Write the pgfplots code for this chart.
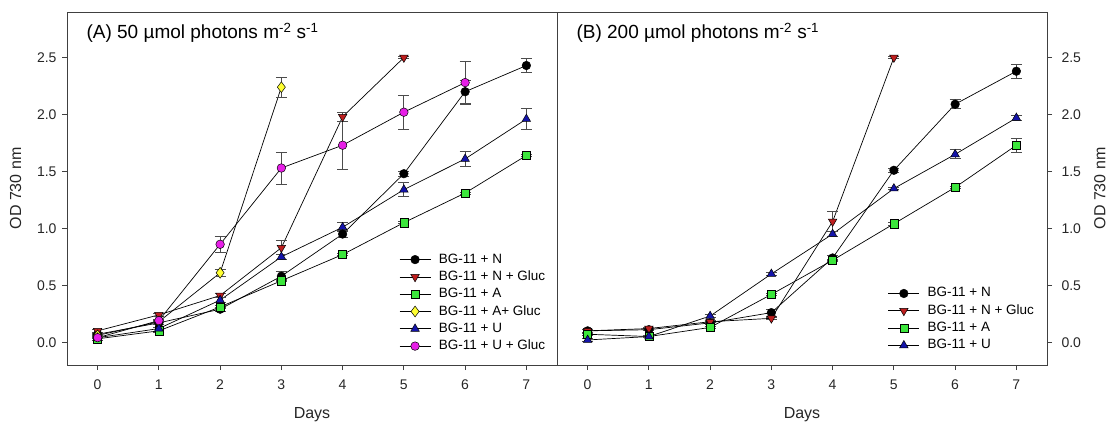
\documentclass[border=0pt]{standalone}
\usepackage{fontspec}
\setmainfont{Liberation Sans}
\usepackage{pgfplots}
\usepackage{pgfplotstable}
\pgfplotsset{compat=1.18}

\definecolor{redc}{RGB}{190,30,30}
\definecolor{greenc}{RGB}{60,230,60}
\definecolor{yellowc}{RGB}{255,255,50}
\definecolor{bluec}{RGB}{20,20,170}
\definecolor{magc}{RGB}{230,30,230}

% ---------- Panel A ----------
\pgfplotstableread{
x y e
0 0.07 0.01
1 0.17 0.01
2 0.29 0.02
3 0.58 0.04
4 0.95 0.03
5 1.48 0.02
6 2.20 0.10
7 2.43 0.06
}\AN
\pgfplotstableread{
x y e
0 0.10 0.01
1 0.24 0.01
2 0.41 0.02
3 0.83 0.06
4 1.98 0.04
5 2.50 0.01
}\ANG
\pgfplotstableread{
x y e
0 0.03 0.01
1 0.10 0.01
2 0.31 0.01
3 0.54 0.01
4 0.77 0.01
5 1.05 0.01
6 1.31 0.01
7 1.64 0.01
}\AA
\pgfplotstableread{
x y e
0 0.06 0.01
1 0.18 0.01
2 0.61 0.03
3 2.24 0.09
}\AAG
\pgfplotstableread{
x y e
0 0.04 0.01
1 0.12 0.01
2 0.37 0.02
3 0.75 0.02
4 1.01 0.04
5 1.34 0.06
6 1.61 0.07
7 1.96 0.09
}\AU
\pgfplotstableread{
x y e
0 0.04 0.01
1 0.19 0.01
2 0.86 0.07
3 1.53 0.14
4 1.73 0.21
5 2.02 0.15
6 2.28 0.19
}\AUG

% ---------- Panel B ----------
\pgfplotstableread{
x y e
0 0.10 0.01
1 0.11 0.01
2 0.17 0.01
3 0.26 0.03
4 0.74 0.02
5 1.51 0.02
6 2.09 0.04
7 2.38 0.06
}\BN
\pgfplotstableread{
x y e
0 0.10 0.01
1 0.12 0.01
2 0.18 0.01
3 0.21 0.01
4 1.06 0.09
5 2.50 0.01
}\BNG
\pgfplotstableread{
x y e
0 0.07 0.01
1 0.05 0.01
2 0.13 0.01
3 0.42 0.01
4 0.72 0.01
5 1.04 0.01
6 1.36 0.01
7 1.73 0.06
}\BA
\pgfplotstableread{
x y e
0 0.02 0.01
1 0.05 0.01
2 0.23 0.01
3 0.60 0.01
4 0.95 0.02
5 1.35 0.01
6 1.65 0.04
7 1.97 0.02
}\BU

\pgfplotsset{
  myax/.style={
    scale only axis, width=490pt, height=353pt,
    xmin=-0.5, xmax=7.5, ymin=-0.2, ymax=2.9,
    xtick={0,1,2,3,4,5,6,7},
    ytick={0,0.5,1,1.5,2,2.5},
    yticklabel style={/pgf/number format/fixed, /pgf/number format/fixed zerofill, /pgf/number format/precision=1},
    /pgf/number format/assume math mode=true,
    tick align=outside, major tick length=5pt,
    xtick pos=left,
    xticklabel style={yshift=-6pt},
    axis line style={black!75, line width=0.8pt},
    every tick/.style={black!75, line width=0.8pt},
    tick label style={font=\fontsize{14}{16}\selectfont, text=black!85},
    label style={font=\fontsize{16}{18}\selectfont, text=black!85},
    xlabel={Days}, ylabel={OD 730 nm},
    xlabel style={at={(axis description cs:0.5,-0.142)}, anchor=center},
    legend cell align=left,
    legend image code/.code={\draw[##1, mark repeat=2, mark phase=2] plot coordinates {(0pt,0pt) (15.5pt,0pt) (31pt,0pt)};},
    legend style={draw=none, fill=none, inner sep=0pt, outer sep=0pt,
      font=\fontsize{13.5}{15}\selectfont, row sep=4.3pt,
      nodes={inner sep=0pt, text height=10pt, text depth=3pt},
      /tikz/every odd column/.append style={column sep=8pt}},
  },
  ser/.style n args={4}{black, line width=0.7pt, mark=#1, mark size=#3,
    mark options={fill=#2, draw=black, line width=0.5pt, solid, rotate=#4},
    error bars/y dir=both, error bars/y explicit,
    error bars/error bar style={black!70, line width=0.8pt},
    error bars/error mark options={rotate=90, mark size=5.5pt, black!70, line width=0.8pt}},
}

\begin{document}
\begin{tikzpicture}
\path[use as bounding box] (0,0) rectangle (1115pt,423pt);

\begin{axis}[myax, at={(67pt,58pt)}, anchor=south west,
  ytick pos=left,
  yticklabel style={xshift=-2pt},
  ylabel style={at={(axis description cs:-0.105,0.5)}, anchor=center},
  legend style={at={(rel axis cs:0.678,0.317)}, anchor=north west}]
\addplot[ser={*}{black}{4.3pt}{0}] table[x=x,y=y,y error=e] {\AN};
\addlegendentry{BG-11 + N}
\addplot[ser={triangle*}{redc}{4.9pt}{180}] table[x=x,y=y,y error=e] {\ANG};
\addlegendentry{BG-11 + N + Gluc}
\addplot[ser={square*}{greenc}{4.1pt}{0}] table[x=x,y=y,y error=e] {\AA};
\addlegendentry{BG-11 + A}
\addplot[ser={diamond*}{yellowc}{5.4pt}{0}] table[x=x,y=y,y error=e] {\AAG};
\addlegendentry{BG-11 + A+ Gluc}
\addplot[ser={triangle*}{bluec}{4.9pt}{0}] table[x=x,y=y,y error=e] {\AU};
\addlegendentry{BG-11 + U}
\addplot[ser={*}{magc}{4.3pt}{0}] table[x=x,y=y,y error=e] {\AUG};
\addlegendentry{BG-11 + U + Gluc}
\node[anchor=west, font=\fontsize{19}{21}\selectfont] at (rel axis cs:0.0327,0.9405)
  {(A) 50 µmol photons m\textsuperscript{-2} s\textsuperscript{-1}};
\end{axis}

\begin{axis}[myax, at={(557pt,58pt)}, anchor=south west,
  ytick pos=right, yticklabel pos=right,
  yticklabel style={xshift=6pt},
  ylabel style={at={(axis description cs:1.108,0.5)}, anchor=center},
  legend style={at={(rel axis cs:0.6755,0.221)}, anchor=north west}]
\addplot[ser={*}{black}{4.3pt}{0}] table[x=x,y=y,y error=e] {\BN};
\addlegendentry{BG-11 + N}
\addplot[ser={triangle*}{redc}{4.9pt}{180}] table[x=x,y=y,y error=e] {\BNG};
\addlegendentry{BG-11 + N + Gluc}
\addplot[ser={square*}{greenc}{4.1pt}{0}] table[x=x,y=y,y error=e] {\BA};
\addlegendentry{BG-11 + A}
\addplot[ser={triangle*}{bluec}{4.9pt}{0}] table[x=x,y=y,y error=e] {\BU};
\addlegendentry{BG-11 + U}
\node[anchor=west, font=\fontsize{19}{21}\selectfont] at (rel axis cs:0.0327,0.9405)
  {(B) 200 µmol photons m\textsuperscript{-2} s\textsuperscript{-1}};
\end{axis}
\end{tikzpicture}
\end{document}
